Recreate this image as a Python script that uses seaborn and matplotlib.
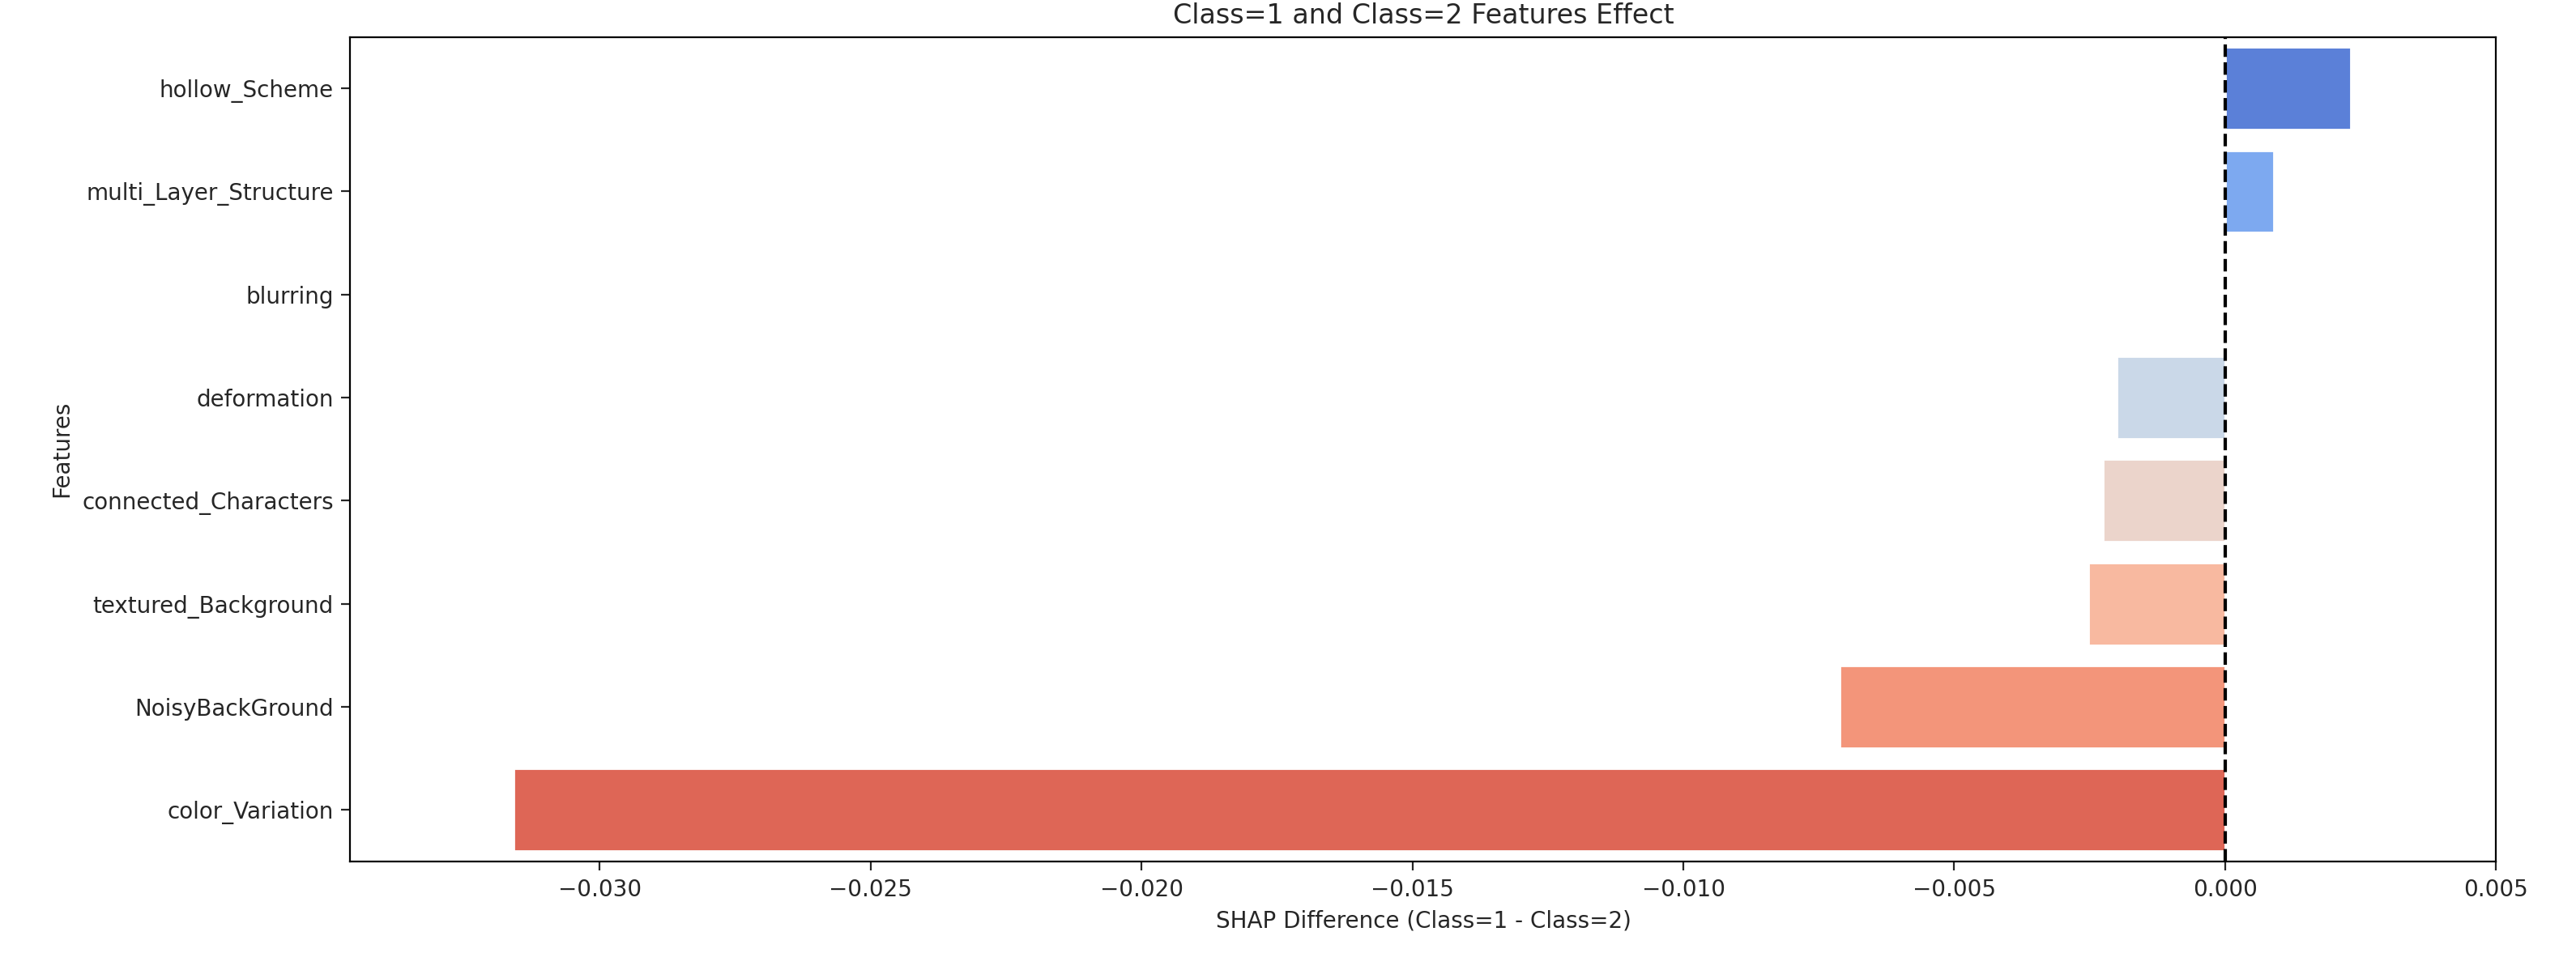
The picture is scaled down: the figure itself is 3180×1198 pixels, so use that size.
import matplotlib
matplotlib.use('Agg')
import matplotlib.pyplot as plt
import seaborn as sns
import pandas as pd

features = ['hollow_Scheme', 'multi_Layer_Structure', 'blurring', 'deformation',
            'connected_Characters', 'textured_Background', 'NoisyBackGround', 'color_Variation']
shap_diff = [0.00232, 0.00090, 0.0, -0.00200, -0.00225, -0.00252, -0.00712, -0.03158]
bar_colors = ['#5b80d8', '#7da9f0', '#c0d4f5', '#cad8e8', '#ebd4cb', '#f8b9a0', '#f3957a', '#de6656']

df = pd.DataFrame({'Feature': features, 'SHAP': shap_diff})

sns.set_style('white')
fig = plt.figure(figsize=(15.9, 5.99), dpi=200)
ax = fig.add_axes([0.136, 0.112, 0.833, 0.85])
sns.barplot(data=df, x='SHAP', y='Feature', hue='Feature', palette=bar_colors,
            legend=False, ax=ax, saturation=1)
ax.axvline(0, color='black', linestyle='--', linewidth=1.5)
ax.set_xlim(-0.0346, 0.0049)
ax.set_xticks([-0.030, -0.025, -0.020, -0.015, -0.010, -0.005, 0.0, 0.005])
ax.set_xticklabels(['\u22120.030', '\u22120.025', '\u22120.020', '\u22120.015',
                    '\u22120.010', '\u22120.005', '0.000', '0.005'])
ax.tick_params(axis='both', labelsize=10, length=4, left=True, bottom=True)
ax.set_title('Class=1 and Class=2 Features Effect', fontsize=12)
ax.set_xlabel('SHAP Difference (Class=1 - Class=2)', fontsize=10)
ax.set_ylabel('Features', fontsize=10)
for s in ax.spines.values():
    s.set_color('black')
    s.set_linewidth(0.8)
fig.savefig('out.png', dpi=200)
